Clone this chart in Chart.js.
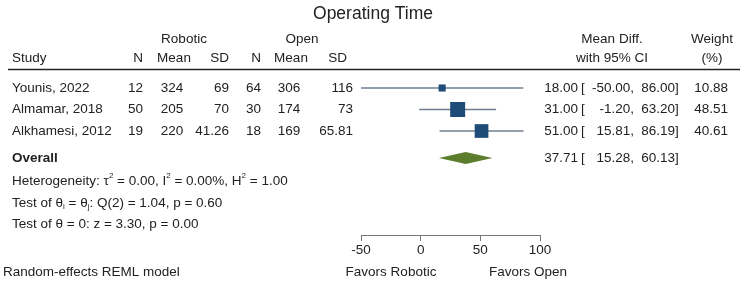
<!DOCTYPE html>
<html>
<head>
<meta charset="utf-8">
<script src="https://cdn.jsdelivr.net/npm/chart.js@4.4.1/dist/chart.umd.min.js"></script>
<style>
  html, body { margin: 0; padding: 0; background: #fff; }
  canvas { display: block; }
</style>
</head>
<body>
<canvas id="forest" width="750" height="302"></canvas>
<script>
// study data
var studies = ['Younis, 2022', 'Almamar, 2018', 'Alkhamesi, 2012'];
var robN = [12, 50, 19];
var robMean = ['324', '205', '220'];
var robSD = ['69', '70', '41.26'];
var openN = [64, 30, 18];
var openMean = ['306', '174', '169'];
var openSD = ['116', '73', '65.81'];
var meanDiff = [18.00, 31.00, 51.00];
var ciLow = [-50.00, -1.20, 15.81];
var ciHigh = [86.00, 63.20, 86.19];
var weights = [10.88, 48.51, 40.61];

var overall = { est: 37.71, lo: 15.28, hi: 60.13 };
var xTicks = [-50, 0, 50, 100];

var rows = [1, 2, 3];
var overallRow = 4.256;
var statRows = [5.33, 6.35, 7.33];

var FONT = '"Liberation Sans", Arial, Helvetica, sans-serif';
var FS = 13.5;
var TXT = '#222';

function fmt(v) { return v.toFixed(2); }

// marker side ~ sqrt(weight); Chart.js 'rect' side = radius * sqrt(2)
var radii = weights.map(function (w) { return 2.15 * Math.sqrt(w) / Math.SQRT2; });

function txt(ctx, s, x, y, align, size, weight) {
  ctx.font = (weight || 'normal') + ' ' + (size || FS) + 'px ' + FONT;
  ctx.textAlign = align || 'left';
  ctx.textBaseline = 'middle';
  ctx.fillStyle = TXT;
  ctx.fillText(s, x, y);
}

// draw runs of text with sub/superscripts
function runs(ctx, parts, x, y) {
  ctx.textBaseline = 'middle';
  ctx.textAlign = 'left';
  ctx.fillStyle = TXT;
  parts.forEach(function (p) {
    var plain = typeof p === 'string';
    var s = plain ? p : p.t;
    var dy = 0, size = FS;
    if (!plain && p.up) { size = 8; dy = -5; }
    if (!plain && p.down) { size = 8; dy = 4; }
    ctx.font = size + 'px ' + FONT;
    ctx.fillText(s, x, y + dy);
    x += ctx.measureText(s).width;
  });
}

var tablePlugin = {
  id: 'table',
  beforeDatasetsDraw: function (chart) {
    var ctx = chart.ctx;
    var xs = chart.scales.x, ys = chart.scales.y;
    ctx.save();
    // CI lines
    ctx.strokeStyle = '#6f7f8f';
    ctx.lineWidth = 1.5;
    for (var i = 0; i < studies.length; i++) {
      var py = ys.getPixelForValue(rows[i]);
      ctx.beginPath();
      ctx.moveTo(xs.getPixelForValue(ciLow[i]), py);
      ctx.lineTo(xs.getPixelForValue(ciHigh[i]), py);
      ctx.stroke();
    }
    // overall diamond
    var oy = ys.getPixelForValue(overallRow);
    ctx.fillStyle = '#5b7d2c';
    ctx.beginPath();
    ctx.moveTo(xs.getPixelForValue(overall.lo), oy);
    ctx.lineTo(xs.getPixelForValue(overall.est), oy - 6);
    ctx.lineTo(xs.getPixelForValue(overall.hi), oy);
    ctx.lineTo(xs.getPixelForValue(overall.est), oy + 6);
    ctx.closePath();
    ctx.fill();
    ctx.restore();
  },
  afterDraw: function (chart) {
    var ctx = chart.ctx;
    var ys = chart.scales.y;
    ctx.save();
    txt(ctx, 'Operating Time', 373, 14, 'center', 17.5);

    txt(ctx, 'Robotic', 184, 39, 'center');
    txt(ctx, 'Open', 302, 39, 'center');
    txt(ctx, 'Mean Diff.', 612, 39, 'center');
    txt(ctx, 'Weight', 712, 39, 'center');

    txt(ctx, 'Study', 12, 58);
    txt(ctx, 'N', 143, 58, 'right');
    txt(ctx, 'Mean', 174, 58, 'center');
    txt(ctx, 'SD', 229, 58, 'right');
    txt(ctx, 'N', 261, 58, 'right');
    txt(ctx, 'Mean', 291, 58, 'center');
    txt(ctx, 'SD', 347, 58, 'right');
    txt(ctx, 'with 95% CI', 612, 58, 'center');
    txt(ctx, '(%)', 712, 58, 'center');

    ctx.strokeStyle = '#222';
    ctx.lineWidth = 1.5;
    ctx.beginPath();
    ctx.moveTo(8, 69.5);
    ctx.lineTo(740, 69.5);
    ctx.stroke();

    for (var i = 0; i < studies.length; i++) {
      var py = ys.getPixelForValue(rows[i]);
      txt(ctx, studies[i], 12, py);
      txt(ctx, String(robN[i]), 143, py, 'right');
      txt(ctx, robMean[i], 172, py, 'center');
      txt(ctx, robSD[i], 229, py, 'right');
      txt(ctx, String(openN[i]), 261, py, 'right');
      txt(ctx, openMean[i], 289, py, 'center');
      txt(ctx, openSD[i], 353, py, 'right');
      txt(ctx, fmt(meanDiff[i]), 578, py, 'right');
      txt(ctx, '[', 581, py);
      txt(ctx, fmt(ciLow[i]) + ',', 634, py, 'right');
      txt(ctx, fmt(ciHigh[i]), 675, py, 'right');
      txt(ctx, ']', 675, py);
      txt(ctx, fmt(weights[i]), 728, py, 'right');
    }

    var oy = ys.getPixelForValue(overallRow);
    txt(ctx, 'Overall', 12, oy, 'left', FS, 'bold');
    txt(ctx, fmt(overall.est), 578, oy, 'right');
    txt(ctx, '[', 581, oy);
    txt(ctx, fmt(overall.lo) + ',', 634, oy, 'right');
    txt(ctx, fmt(overall.hi), 675, oy, 'right');
    txt(ctx, ']', 675, oy);

    runs(ctx, ['Heterogeneity: \u03c4', { t: '2', up: true }, ' = 0.00, I', { t: '2', up: true },
      ' = 0.00%, H', { t: '2', up: true }, ' = 1.00'], 12, ys.getPixelForValue(statRows[0]));
    runs(ctx, ['Test of \u03b8', { t: 'i', down: true }, ' = \u03b8', { t: 'j', down: true },
      ': Q(2) = 1.04, p = 0.60'], 12, ys.getPixelForValue(statRows[1]));
    runs(ctx, ['Test of \u03b8 = 0: z = 3.30, p = 0.00'], 12, ys.getPixelForValue(statRows[2]));

    txt(ctx, 'Random-effects REML model', 3, 272);
    txt(ctx, 'Favors Robotic', 391, 272, 'center');
    txt(ctx, 'Favors Open', 528, 272, 'center');
    ctx.restore();
  }
};

var points = studies.map(function (s, i) { return { x: meanDiff[i], y: rows[i] }; });

new Chart(document.getElementById('forest'), {
  type: 'scatter',
  data: {
    datasets: [{
      label: 'Mean Diff.',
      data: points,
      pointStyle: 'rect',
      pointRadius: radii,
      pointHoverRadius: radii,
      backgroundColor: '#1f4b78',
      borderColor: '#1f4b78',
      borderWidth: 0,
      clip: false
    }]
  },
  options: {
    responsive: false,
    animation: false,
    events: [],
    layout: { padding: { left: 361, right: 210, top: 69, bottom: 42 } },
    plugins: { legend: { display: false }, tooltip: { enabled: false } },
    scales: {
      x: {
        type: 'linear',
        min: -50,
        max: 100,
        afterBuildTicks: function (s) { s.ticks = xTicks.map(function (v) { return { value: v }; }); },
        afterFit: function (s) { s.height = 25; },
        grid: { drawOnChartArea: false, drawTicks: true, tickLength: 6, color: '#777' },
        border: { display: true, color: '#777', width: 1 },
        ticks: { color: TXT, padding: 1, font: { size: FS, family: FONT }, maxRotation: 0 }
      },
      y: {
        type: 'linear',
        display: false,
        reverse: true,
        min: 0.116,
        max: 7.837
      }
    }
  },
  plugins: [tablePlugin]
});
</script>
</body>
</html>
